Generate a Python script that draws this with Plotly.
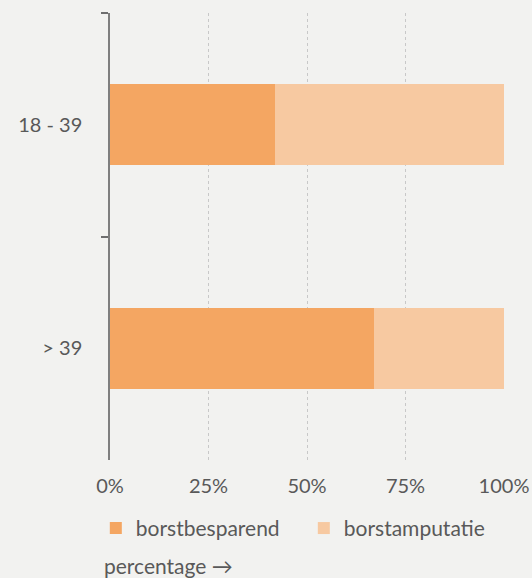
import plotly.graph_objects as go

categories = ["18 - 39", "> 39"]
borstbesparend = [42, 67]
borstamputatie = [58, 33]
x_ticks = [0, 25, 50, 75, 100]
x_tick_labels = ["0%", "25%", "50%", "75%", "100%"]

FONT = "Lato, 'Open Sans', sans-serif"
GREY = "#595959"

fig = go.Figure()
fig.add_trace(go.Bar(y=categories, x=borstbesparend, orientation="h",
                     name="borstbesparend", marker=dict(color="#F4A662", line=dict(width=0))))
fig.add_trace(go.Bar(y=categories, x=borstamputatie, orientation="h",
                     name="borstamputatie", marker=dict(color="#F7C9A1", line=dict(width=0))))

fig.update_layout(
    width=532, height=578,
    barmode="stack", bargap=0.637,
    paper_bgcolor="#F2F2F0", plot_bgcolor="#F2F2F0",
    margin=dict(l=110, r=28, t=13, b=118, autoexpand=False),
    font=dict(family=FONT, size=20, color=GREY),
    showlegend=True,
    legend=dict(orientation="h", x=-0.036, xanchor="left", y=-0.153, yanchor="middle",
                font=dict(size=21, color=GREY), bgcolor="rgba(0,0,0,0)",
                traceorder="normal", itemwidth=30, entrywidth=163, entrywidthmode="pixels"),
    xaxis=dict(range=[0, 100], tickvals=x_ticks, ticktext=x_tick_labels,
               showgrid=True, gridcolor="#C8C8C8", griddash="dot", gridwidth=1,
               zeroline=False, showline=False, ticks="", fixedrange=True,
               ticklabelstandoff=12),
    yaxis=dict(categoryorder="array", categoryarray=categories, autorange="reversed",
               showline=True, linecolor="#7F7F7F", linewidth=1.5,
               ticks="outside", tickson="boundaries", ticklen=7, tickcolor="#6E6E6E",
               tickwidth=1.5, showgrid=False, zeroline=False, ticklabelstandoff=22),
    annotations=[dict(text="percentage \u2192", xref="paper", yref="paper",
                      x=-0.02, y=-0.235, xanchor="left", yanchor="middle",
                      showarrow=False, font=dict(size=21, color=GREY))],
)

fig.write_html("out.html", config={"displayModeBar": False},
               post_script="document.body.style.margin='0';document.body.style.overflow='hidden';")
